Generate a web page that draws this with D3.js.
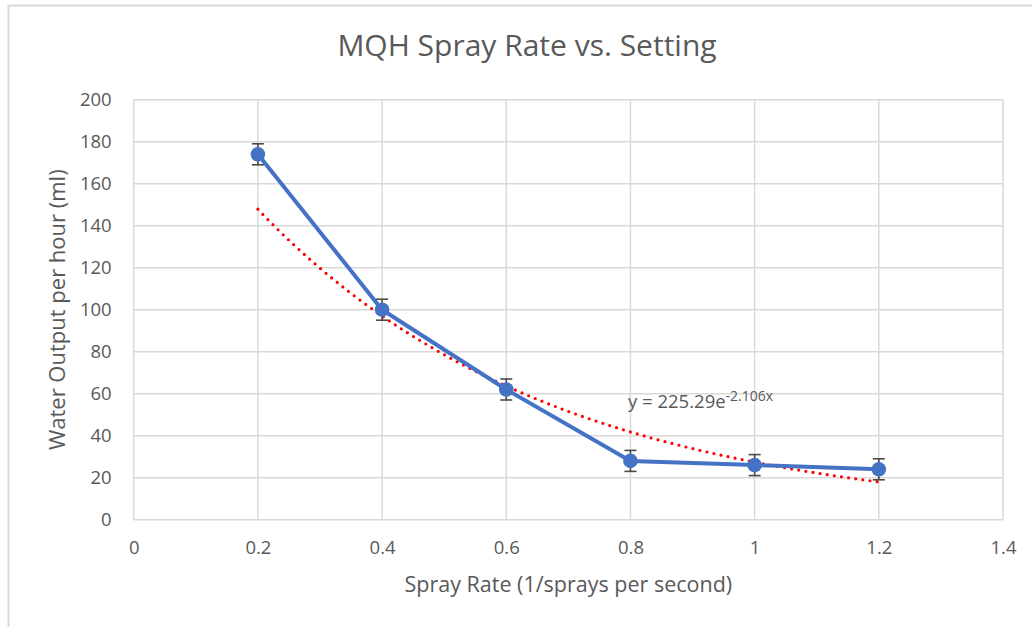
<!DOCTYPE html>
<html>
<head>
<meta charset="utf-8">
<script src="https://cdn.jsdelivr.net/npm/d3@7"></script>
<style>
  html, body { margin: 0; padding: 0; background: #fff; }
  svg { display: block; font-family: "Open Sans", "DejaVu Sans", sans-serif; }
</style>
</head>
<body>
<svg id="chart" width="1032" height="627"></svg>
<script>
// Measured spray output at each spray-rate setting
const sprayRate = [0.2, 0.4, 0.6, 0.8, 1.0, 1.2];
const waterOutput = [174, 100, 62, 28, 26, 24];
const errorMargin = [5, 5, 5, 5, 5, 5];

// Exponential fit reported on the chart: y = a * e^(b x)
const fitA = 225.29;
const fitB = -2.106;

const xTicks = [0, 0.2, 0.4, 0.6, 0.8, 1, 1.2, 1.4];
const yTicks = [0, 20, 40, 60, 80, 100, 120, 140, 160, 180, 200];

const svg = d3.select("#chart");
const textColor = "#595959";
const gridColor = "#d9d9d9";
const blue = "#4472C4";

// outer chart frame
svg.append("rect")
  .attr("x", 8.5).attr("y", 5.5)
  .attr("width", 1040).attr("height", 640)
  .attr("fill", "#fff")
  .attr("stroke", gridColor).attr("stroke-width", 2);

const plot = { left: 133.7, right: 1003, top: 99.7, bottom: 519.7 };

const x = d3.scaleLinear().domain([0, 1.4]).range([plot.left, plot.right]);
const y = d3.scaleLinear().domain([0, 200]).range([plot.bottom, plot.top]);

// gridlines
const grid = svg.append("g");
grid.selectAll("line.h").data(yTicks).join("line")
  .attr("x1", plot.left).attr("x2", plot.right)
  .attr("y1", d => y(d)).attr("y2", d => y(d))
  .attr("stroke", gridColor).attr("stroke-width", 1.5);
grid.selectAll("line.v").data(xTicks).join("line")
  .attr("y1", plot.top).attr("y2", plot.bottom)
  .attr("x1", d => x(d)).attr("x2", d => x(d))
  .attr("stroke", gridColor).attr("stroke-width", 1.5);

// axes (tick labels only; lines come from the grid)
const xAxis = svg.append("g")
  .attr("transform", `translate(0,${plot.bottom})`)
  .call(d3.axisBottom(x).tickValues(xTicks).tickSize(0).tickPadding(21)
    .tickFormat(d => String(+d.toFixed(1))));
const yAxis = svg.append("g")
  .attr("transform", `translate(${plot.left},0)`)
  .call(d3.axisLeft(y).tickValues(yTicks).tickSize(0).tickPadding(22)
    .tickFormat(d3.format("d")));
[xAxis, yAxis].forEach(g => {
  g.select(".domain").remove();
  g.selectAll("text")
    .attr("fill", textColor)
    .style("font-size", "18.5px")
    .style("font-family", "'Open Sans', sans-serif");
});

// exponential trendline across the measured range
const fitPts = d3.range(0, 101).map(i => {
  const xv = 0.2 + i * 0.01;
  return [xv, fitA * Math.exp(fitB * xv)];
});
svg.append("path")
  .datum(fitPts)
  .attr("fill", "none")
  .attr("stroke", "#ff0000")
  .attr("stroke-width", 3.2)
  .attr("stroke-linecap", "round")
  .attr("stroke-dasharray", "0 7.2")
  .attr("d", d3.line().x(d => x(d[0])).y(d => y(d[1])));

// data line
const pts = sprayRate.map((r, i) => ({ x: r, y: waterOutput[i], e: errorMargin[i] }));
svg.append("path")
  .datum(pts)
  .attr("fill", "none")
  .attr("stroke", blue)
  .attr("stroke-width", 4)
  .attr("stroke-linejoin", "round")
  .attr("d", d3.line().x(d => x(d.x)).y(d => y(d.y)));

// error bars
const eb = svg.append("g").attr("stroke", "#4a4a4a").attr("stroke-width", 1.6);
eb.selectAll("line.stem").data(pts).join("line")
  .attr("x1", d => x(d.x)).attr("x2", d => x(d.x))
  .attr("y1", d => y(d.y + d.e)).attr("y2", d => y(d.y - d.e));
eb.selectAll("line.capTop").data(pts).join("line")
  .attr("x1", d => x(d.x) - 6).attr("x2", d => x(d.x) + 6)
  .attr("y1", d => y(d.y + d.e)).attr("y2", d => y(d.y + d.e));
eb.selectAll("line.capBot").data(pts).join("line")
  .attr("x1", d => x(d.x) - 6).attr("x2", d => x(d.x) + 6)
  .attr("y1", d => y(d.y - d.e)).attr("y2", d => y(d.y - d.e));

// markers
svg.append("g").selectAll("circle").data(pts).join("circle")
  .attr("cx", d => x(d.x)).attr("cy", d => y(d.y))
  .attr("r", 7.3)
  .attr("fill", blue);

// trendline equation
const eq = svg.append("text")
  .attr("x", 628).attr("y", 408)
  .attr("fill", textColor)
  .style("font-size", "18.5px");
eq.append("tspan").text(`y = ${fitA}e`);
eq.append("tspan").attr("dy", -7).style("font-size", "14px").text(`${fitB}x`);

// title
svg.append("text")
  .attr("x", 527).attr("y", 56)
  .attr("text-anchor", "middle")
  .attr("fill", textColor)
  .style("font-size", "30px")
  .text("MQH Spray Rate vs. Setting");

// axis titles
svg.append("text")
  .attr("x", (plot.left + plot.right) / 2).attr("y", 592)
  .attr("text-anchor", "middle")
  .attr("fill", textColor)
  .style("font-size", "21.5px")
  .text("Spray Rate (1/sprays per second)");

svg.append("text")
  .attr("transform", `translate(65,${(plot.top + plot.bottom) / 2}) rotate(-90)`)
  .attr("text-anchor", "middle")
  .attr("fill", textColor)
  .style("font-size", "22px")
  .text("Water Output per hour (ml)");
</script>
</body>
</html>
